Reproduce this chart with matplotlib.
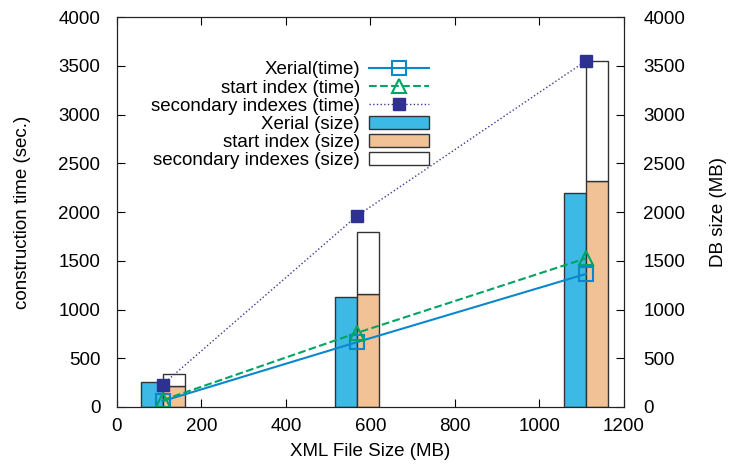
import matplotlib.pyplot as plt
import numpy as np

plt.rcParams['font.family'] = ['Liberation Sans', 'DejaVu Sans']

# data
file_size = [108, 568, 1110]
xerial_time = [60, 665, 1365]
start_time = [70, 760, 1525]
secondary_time = [230, 1960, 3550]
xerial_size = [258, 1130, 2190]
start_size = [220, 1160, 2320]
secondary_size = [120, 640, 1230]

bar_w = 52
fs = 13.5

fig = plt.figure(figsize=(7.32, 4.67), dpi=100)
ax = fig.add_axes([0.1598, 0.1285, 0.6926, 0.835])

x = np.array(file_size)
ax.plot(x, xerial_time, '-', color='#0A88CC', lw=1.5, marker='s', ms=10,
        mfc='none', mew=1.5, label='Xerial(time)', zorder=3)
ax.plot(x, start_time, '--', color='#00A464', lw=1.5, marker='^', ms=10,
        mfc='none', mew=1.5, label='start index (time)', zorder=3)
ax.plot(x, secondary_time, ':', color='#3A3A9A', lw=1, marker='s', ms=9,
        mfc='#2E3192', mec='#2E3192', label='secondary indexes (time)', zorder=3)

ax.bar(x, xerial_size, width=-bar_w, align='edge', color='#3DB9E5',
       edgecolor='#333333', linewidth=1, label='Xerial (size)', zorder=2)
ax.bar(x, start_size, width=bar_w, align='edge', color='#F0C296',
       edgecolor='#333333', linewidth=1, label='start index (size)', zorder=2)
ax.bar(x, secondary_size, width=bar_w, align='edge', bottom=start_size,
       color='white', edgecolor='#333333', linewidth=1,
       label='secondary indexes (size)', zorder=2)

ax.set_xlim(0, 1200)
ax.set_ylim(0, 4000)
ax.set_xticks(range(0, 1201, 200))
ax.set_yticks(range(0, 4001, 500))
ax.tick_params(direction='in', top=True, right=False, labelsize=fs,
               length=6, pad=8)
ax.tick_params(axis='y', pad=12)
ax.set_xlabel('XML File Size (MB)', fontsize=fs, labelpad=6)
ax.set_ylabel('construction time (sec.)', fontsize=fs, labelpad=20)

ax2 = ax.twinx()
ax2.set_ylim(0, 4000)
ax2.set_yticks(range(0, 4001, 500))
ax2.tick_params(direction='in', labelsize=fs, length=6, pad=14)
ax2.set_ylabel('DB size (MB)', fontsize=fs, labelpad=18)

ax.legend(loc='upper right', bbox_to_anchor=(0.642, 0.92), frameon=False,
          markerfirst=False, fontsize=fs, handlelength=3.2,
          handletextpad=0.5, labelspacing=0.05, handleheight=0.7,
          borderpad=0.2)

for a in (ax, ax2):
    for s in a.spines.values():
        s.set_color('#222222')

fig.savefig('out.png', dpi=100)
